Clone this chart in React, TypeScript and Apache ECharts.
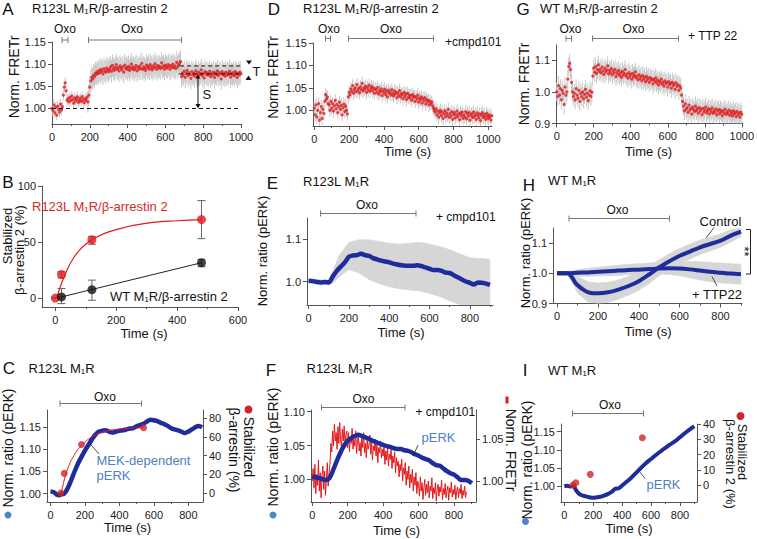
import React, { useEffect, useRef } from 'react';
import * as echarts from 'echarts';

const FONT = '"Liberation Sans", Arial, Helvetica, sans-serif';
const RED = '#e2191b';
const DOT_RED = '#d0262b';
const BLUE_LINE = '#1f2c9c';
const BLUE_TEXT = '#4f80c6';
const BLUE_DOT = '#4a86c8';
const GRAY_BAND = '#d6d6d6';
const GRAY_ERR = '#c8c8c8';
const AXIS = '#555';
const TICKTXT = '#222';

// ---------- Panel A : R123L M1R/β-arrestin 2 (sampled every 5 s) ----------
const A_T0 = 0;
const A_STEP = 5;
const A_VALUES = [
  1.000, 0.995, 1.008, 0.990, 1.003, 0.985, 1.005, 0.998, 0.992, 1.010, 0.997, 1.004,
  1.030, 1.048, 1.058, 1.040, 1.018,
  1.022, 1.015, 1.025, 1.018, 1.028, 1.020, 1.012, 1.024, 1.017, 1.021, 1.026, 1.014, 1.019, 1.023, 1.016, 1.027, 1.020, 1.013, 1.022, 1.018, 1.025, 1.015,
  1.030, 1.048, 1.062, 1.070, 1.066, 1.075, 1.072, 1.080, 1.077, 1.083, 1.079, 1.086, 1.081, 1.088, 1.084, 1.078, 1.090, 1.085, 1.082, 1.091, 1.087, 1.083,
  1.089, 1.094, 1.084, 1.097, 1.090, 1.086, 1.093, 1.099, 1.088, 1.092,
  1.085, 1.096, 1.091, 1.087, 1.094, 1.082, 1.098, 1.090, 1.093, 1.088,
  1.095, 1.086, 1.092, 1.100, 1.089, 1.094, 1.087, 1.091, 1.097, 1.085,
  1.093, 1.089, 1.096, 1.090, 1.102, 1.088, 1.094, 1.091, 1.086, 1.098,
  1.092, 1.095, 1.089, 1.099, 1.093, 1.087, 1.096, 1.091, 1.101, 1.094,
  1.088, 1.097, 1.092, 1.095, 1.090, 1.103, 1.093, 1.096, 1.089, 1.098,
  1.094, 1.091, 1.099, 1.095, 1.088, 1.097, 1.093, 1.100, 1.092, 1.096,
  1.090, 1.104, 1.094, 1.098, 1.101, 1.106,
  1.072, 1.080, 1.075, 1.084, 1.070, 1.079, 1.086, 1.074, 1.081, 1.077,
  1.068, 1.083, 1.076, 1.080, 1.073, 1.085, 1.078, 1.071, 1.082, 1.076,
  1.079, 1.087, 1.074, 1.080, 1.069, 1.083, 1.077, 1.081, 1.075, 1.078,
  1.084, 1.072, 1.079, 1.076, 1.082, 1.070, 1.080, 1.077, 1.085, 1.074,
  1.081, 1.078, 1.067, 1.083, 1.076, 1.079, 1.073, 1.082, 1.075, 1.080,
  1.077, 1.084, 1.071, 1.079, 1.076, 1.081, 1.074, 1.083, 1.078, 1.070,
  1.080, 1.076, 1.082, 1.078,
];
const A_ERR = [[0, 0.012], [190, 0.025]];
const A_BASELINE = [[0, 1.0], [1000, 1.0]];
const A_T_UPPER = [[678, 1.096], [1000, 1.096]];
const A_T_LOWER = [[672, 1.078], [1000, 1.078]];

// ---------- Panel D : + cmpd101 ----------
const D_T0 = 0;
const D_STEP = 5;
const D_VALUES = [
  1.005, 0.990, 1.012, 0.985, 1.000, 1.015, 0.978, 0.995, 1.008, 0.982, 1.002, 0.993,
  1.020, 1.035, 1.025, 1.030, 1.015,
  1.012, 1.000, 1.020, 1.005, 1.015, 0.998, 1.010, 1.022, 1.003, 1.013, 0.995, 1.008, 1.018, 1.002, 1.011, 0.990, 1.006, 1.014, 0.997, 1.009, 1.000, 0.992,
  1.030, 1.040, 1.035, 1.048, 1.042, 1.055, 1.038, 1.046, 1.050, 1.041, 1.057, 1.044, 1.049, 1.039, 1.052, 1.046,
  1.060, 1.043, 1.050, 1.047, 1.054, 1.040, 1.051, 1.045, 1.056, 1.042, 1.049, 1.053, 1.044, 1.050, 1.038, 1.048,
  1.046, 1.040, 1.051, 1.036, 1.044, 1.041, 1.048, 1.033, 1.043, 1.039,
  1.047, 1.035, 1.042, 1.030, 1.045, 1.038, 1.041, 1.034, 1.046, 1.037,
  1.032, 1.043, 1.036, 1.040, 1.028, 1.039, 1.033, 1.044, 1.030, 1.037,
  1.035, 1.026, 1.040, 1.031, 1.036, 1.024, 1.038, 1.029, 1.034, 1.027,
  1.033, 1.022, 1.035, 1.028, 1.031, 1.020, 1.030, 1.025, 1.034, 1.018,
  1.027, 1.023, 1.030, 1.016, 1.026, 1.021, 1.028, 1.014, 1.024, 1.019,
  1.022, 1.012, 1.020, 1.015, 1.018, 1.010,
  1.005, 1.000, 0.996, 1.003, 0.990, 0.998, 0.985, 0.994, 1.000, 0.988,
  0.996, 0.982, 0.992, 0.999, 0.986, 0.994, 0.989, 1.002, 0.984, 0.993,
  0.987, 0.997, 0.980, 0.991, 0.995, 0.983, 0.990, 0.998, 0.986, 0.992,
  0.979, 0.994, 0.988, 0.996, 0.982, 0.990, 0.985, 0.997, 0.981, 0.993,
  0.987, 0.995, 0.978, 0.989, 0.992, 0.984, 0.996, 0.986, 0.990, 0.980,
  0.994, 0.988, 0.983, 0.992, 0.977, 0.989, 0.995, 0.984, 0.991, 0.986,
  0.980, 0.993, 0.987, 0.982, 0.990, 0.985, 0.978, 0.988,
];
const D_ERR = [[0, 0.015]];

// ---------- Panel G : WT M1R/β-arrestin 2 + TTP 22 ----------
const G_T0 = 0;
const G_STEP = 5;
const G_VALUES = [
  1.000, 0.985, 1.020, 0.990, 1.010, 0.975, 1.005, 0.995, 0.960, 1.015, 0.990, 1.000,
  1.040, 1.080, 1.090, 1.070, 1.030,
  1.000, 0.985, 0.995, 0.975, 1.010, 0.990, 0.980, 1.005, 0.970, 0.995, 0.985, 1.000, 0.978, 0.992, 1.008, 0.983, 0.996, 0.972, 0.990, 1.003, 0.986, 0.998,
  1.050, 1.075, 1.062, 1.080, 1.058, 1.070, 1.085, 1.065, 1.072, 1.060,
  1.078, 1.066, 1.055, 1.074, 1.063, 1.069, 1.082, 1.057, 1.068, 1.061,
  1.073, 1.054, 1.066, 1.059, 1.071, 1.048, 1.063, 1.056, 1.068, 1.052,
  1.060, 1.046, 1.065, 1.053, 1.058, 1.070, 1.050, 1.056, 1.043, 1.061,
  1.049, 1.055, 1.040, 1.058, 1.047, 1.052, 1.063, 1.044, 1.050, 1.038,
  1.054, 1.042, 1.048, 1.035, 1.051, 1.040, 1.046, 1.032, 1.049, 1.038,
  1.043, 1.030, 1.045, 1.036, 1.041, 1.025, 1.039, 1.033, 1.044, 1.028,
  1.036, 1.022, 1.034, 1.030, 1.040, 1.024, 1.031, 1.018, 1.035, 1.026,
  1.029, 1.015, 1.032, 1.023, 1.027, 1.012, 1.030, 1.020, 1.025, 1.008,
  1.028, 1.017, 1.022, 1.005, 1.019, 1.012, 0.990, 0.970,
  0.955, 0.940, 0.962, 0.945, 0.950, 0.935, 0.958, 0.942, 0.948, 0.930,
  0.952, 0.944, 0.938, 0.955, 0.941, 0.947, 0.933, 0.950, 0.939, 0.945,
  0.928, 0.948, 0.936, 0.943, 0.952, 0.934, 0.940, 0.946, 0.930, 0.944,
  0.937, 0.949, 0.932, 0.941, 0.935, 0.946, 0.927, 0.939, 0.944, 0.931,
  0.942, 0.936, 0.925, 0.940, 0.933, 0.945, 0.929, 0.937, 0.931, 0.942,
  0.926, 0.938, 0.933, 0.924, 0.940, 0.930, 0.935, 0.922, 0.938, 0.928,
  0.933, 0.920, 0.936, 0.929,
];
const G_ERR = [[0, 0.03]];

// ---------- Panel B : stabilized β-arrestin 2 ----------
const B_RED_T = [0, 20, 120, 480];
const B_RED_V = [0, 21, 52, 70];
const B_RED_LO = [0, 18, 48, 53];
const B_RED_HI = [0, 23.5, 55, 87];
const B_RED_FIT = [[3, 0], [10, 5], [20, 13], [40, 26], [60, 36], [80, 43], [100, 48], [120, 52], [160, 57.5], [200, 61], [260, 65], [320, 67.5], [400, 69], [480, 70]];
const B_WT_T = [20, 120, 480];
const B_WT_V = [1, 7.5, 31.5];
const B_WT_LO = [-5, -2, 28];
const B_WT_HI = [8.5, 16, 34.5];
const B_WT_FIT = [[20, 1], [480, 31.5]];

// ---------- Panel E : R123L M1R pERK + cmpd101 ----------
const E_T = [0, 20, 40, 60, 80, 100, 120, 140, 160, 180, 200, 220, 240, 260, 280, 300, 320, 340, 360, 380, 400, 420, 440, 460, 480, 500, 520, 540, 560, 580, 600, 620, 640, 660, 680, 700, 720, 740, 760, 780, 800, 820, 840, 860, 880, 900];
const E_V = [1.002, 1.001, 0.999, 0.998, 0.999, 0.998, 1.012, 1.025, 1.035, 1.045, 1.058, 1.061, 1.062, 1.065, 1.062, 1.06, 1.055, 1.052, 1.049, 1.047, 1.045, 1.042, 1.04, 1.038, 1.037, 1.037, 1.037, 1.038, 1.036, 1.033, 1.03, 1.027, 1.027, 1.025, 1.021, 1.02, 1.015, 1.01, 1.005, 1.0, 0.997, 0.993, 0.998, 0.997, 0.995, 0.992];
const E_BAND_T = [0, 50, 100, 125, 150, 200, 250, 300, 350, 400, 450, 500, 550, 600, 650, 700, 750, 800, 850, 900];
const E_BAND_HI = [1.006, 1.004, 1.003, 1.03, 1.06, 1.092, 1.098, 1.098, 1.094, 1.09, 1.088, 1.09, 1.092, 1.088, 1.082, 1.075, 1.065, 1.056, 1.054, 1.052];
const E_BAND_LO = [0.998, 0.994, 0.993, 0.998, 1.01, 1.028, 1.02, 1.005, 0.995, 0.988, 0.983, 0.98, 0.978, 0.972, 0.965, 0.955, 0.946, 0.945, 0.945, 0.945];

// ---------- Panel H : WT M1R pERK, Control vs + TTP22 ----------
const H_CTRL_T = [0, 25, 50, 60, 75, 90, 110, 130, 150, 175, 200, 250, 300, 350, 400, 450, 500, 550, 600, 650, 700, 750, 800, 850, 900];
const H_CTRL_V = [1.0, 1.0, 1.0, 0.998, 0.985, 0.968, 0.955, 0.945, 0.938, 0.934, 0.934, 0.937, 0.946, 0.958, 0.974, 0.996, 1.02, 1.04, 1.058, 1.072, 1.086, 1.097, 1.108, 1.125, 1.138];
const H_CTRL_BAND_T = [0, 50, 75, 100, 150, 200, 250, 300, 350, 400, 450, 500, 550, 600, 650, 700, 750, 800, 850, 900];
const H_CTRL_HI = [1.005, 1.005, 0.998, 0.99, 0.972, 0.968, 0.97, 0.978, 0.99, 1.005, 1.025, 1.045, 1.065, 1.082, 1.097, 1.11, 1.12, 1.13, 1.145, 1.15];
const H_CTRL_LO = [0.995, 0.995, 0.97, 0.935, 0.905, 0.9, 0.904, 0.914, 0.928, 0.944, 0.966, 0.992, 1.015, 1.034, 1.047, 1.062, 1.074, 1.086, 1.103, 1.122];
const H_TTP_T = [0, 50, 100, 150, 200, 250, 300, 350, 400, 450, 500, 550, 600, 650, 700, 750, 800, 850, 900];
const H_TTP_V = [1.0, 1.0, 1.002, 1.003, 1.005, 1.007, 1.009, 1.011, 1.012, 1.014, 1.016, 1.017, 1.016, 1.013, 1.009, 1.005, 1.002, 0.999, 0.997];
const H_TTP_HI = [1.004, 1.005, 1.012, 1.017, 1.02, 1.024, 1.027, 1.03, 1.032, 1.034, 1.036, 1.038, 1.04, 1.04, 1.038, 1.036, 1.034, 1.032, 1.03];
const H_TTP_LO = [0.996, 0.995, 0.99, 0.99, 0.991, 0.992, 0.993, 0.995, 0.996, 0.998, 0.998, 0.996, 0.992, 0.985, 0.978, 0.972, 0.968, 0.966, 0.964];

// ---------- Panel C : R123L M1R pERK vs stabilized β-arrestin ----------
const C_PERK_T = [0, 20, 40, 50, 60, 80, 100, 120, 140, 160, 180, 200, 220, 240, 260, 280, 300, 320, 340, 360, 380, 400, 420, 440, 460, 480, 500, 520, 540, 560, 580, 600, 620, 640, 660, 680, 700, 720, 740, 760, 780, 800, 820, 840, 860, 880];
const C_PERK_V = [1.005, 1.003, 0.997, 0.996, 0.998, 1.0, 1.012, 1.03, 1.05, 1.068, 1.083, 1.097, 1.11, 1.122, 1.133, 1.14, 1.142, 1.143, 1.14, 1.138, 1.14, 1.142, 1.143, 1.145, 1.147, 1.148, 1.152, 1.155, 1.158, 1.163, 1.167, 1.166, 1.164, 1.16, 1.157, 1.153, 1.148, 1.145, 1.143, 1.14, 1.137, 1.14, 1.145, 1.15, 1.153, 1.15];
const C_ARR_T = [60, 80, 180, 540];
const C_ARR_V = [0, 21, 52, 70];
const C_ARR_FIT = [[60, 0], [70, 6], [80, 14], [100, 26], [130, 38], [180, 51], [240, 60], [300, 65], [400, 68.5], [540, 70]];

// ---------- Panel F : R123L M1R pERK vs FRETr + cmpd101 ----------
const F_PERK_T = E_T;
const F_PERK_V = [1.004, 1.003, 1.002, 1.0, 0.999, 1.003, 1.015, 1.028, 1.04, 1.05, 1.057, 1.061, 1.064, 1.066, 1.064, 1.062, 1.06, 1.057, 1.055, 1.053, 1.051, 1.049, 1.048, 1.046, 1.045, 1.045, 1.043, 1.042, 1.04, 1.037, 1.035, 1.032, 1.03, 1.028, 1.024, 1.021, 1.02, 1.016, 1.012, 1.009, 1.007, 1.003, 0.999, 0.999, 0.998, 0.994];
const F_FRET_T0 = 0;
const F_FRET_STEP = 5;
const F_FRET_V = [
  1.000, 1.015, 0.992, 1.020, 0.985, 1.008, 0.995, 1.025, 0.988, 1.010, 0.980, 1.005, 1.018, 0.990, 1.012, 0.983, 1.002, 1.022, 0.994, 1.010,
  1.020, 1.045, 1.035, 1.060, 1.042, 1.068, 1.048, 1.058, 1.038, 1.065, 1.045, 1.070, 1.050, 1.040, 1.062, 1.048, 1.066, 1.044, 1.055, 1.060,
  1.040, 1.058, 1.035, 1.052, 1.045, 1.063, 1.038, 1.050, 1.042, 1.060,
  1.033, 1.048, 1.055, 1.036, 1.046, 1.030, 1.052, 1.040, 1.058, 1.034,
  1.045, 1.028, 1.050, 1.038, 1.043, 1.055, 1.032, 1.046, 1.025, 1.042,
  1.036, 1.050, 1.030, 1.044, 1.022, 1.040, 1.034, 1.048, 1.028, 1.038,
  1.030, 1.042, 1.020, 1.036, 1.025, 1.040, 1.018, 1.032, 1.026, 1.038,
  1.015, 1.030, 1.022, 1.035, 1.010, 1.028, 1.018, 1.024, 1.005, 1.020,
  1.012, 1.026, 1.000, 1.016, 1.008, 1.022, 0.995, 1.012, 1.002, 1.018,
  0.992, 1.008, 0.998, 1.014, 0.988, 1.005, 0.995, 1.010, 0.985, 1.000,
  0.995, 0.982, 1.005, 0.988, 0.998, 0.978, 0.992, 1.002, 0.983, 0.996,
  0.986, 1.000, 0.980, 0.994, 0.988, 1.004, 0.979, 0.992, 0.985, 0.998,
  0.976, 0.990, 0.996, 0.982, 0.993, 0.987, 1.001, 0.978, 0.991, 0.984,
  0.997, 0.980, 0.989, 0.994, 0.977, 0.992, 0.986, 0.999, 0.981, 0.990,
  0.984, 0.995, 0.978, 0.988, 0.993, 0.980, 0.991, 0.985, 0.996, 0.979,
  0.989, 0.983, 0.994, 0.980, 0.987,
];

// ---------- Panel I : WT M1R pERK vs stabilized β-arrestin 2 ----------
const I_PERK_T = [0, 20, 40, 60, 70, 80, 100, 120, 150, 180, 200, 220, 250, 280, 300, 330, 350, 380, 400, 430, 460, 500, 530, 560, 600, 640, 680, 720, 760, 800, 840, 880, 900];
const I_PERK_V = [1.0, 1.001, 0.999, 1.0, 0.998, 0.99, 0.98, 0.975, 0.972, 0.969, 0.968, 0.969, 0.971, 0.975, 0.978, 0.985, 0.992, 0.995, 1.002, 1.012, 1.022, 1.038, 1.05, 1.062, 1.075, 1.088, 1.1, 1.112, 1.122, 1.135, 1.148, 1.16, 1.165];
const I_ARR_T = [60, 80, 180, 540];
const I_ARR_V = [0, 1.5, 7, 31];

// ---------- tick labels ----------
const X_TICKS_1000 = [0, 200, 400, 600, 800, 1000];
const X_MINOR_1000 = [100, 300, 500, 700, 900];
const X_TICKS_800 = [0, 200, 400, 600, 800];
const X_MINOR_800 = [100, 300, 500, 700, 900];
const X_TICKS_B = [0, 200, 400, 600];
const X_MINOR_B = [100, 300, 500];
const Y_TICKS_FRET = [1.0, 1.05, 1.1, 1.15];
const Y_TICKS_G = [0.9, 1.0, 1.1];
const Y_TICKS_B = [0, 50, 100];
const Y_TICKS_E = [1.0, 1.1];
const Y_TICKS_H = [0.9, 1.0, 1.1];
const Y_TICKS_C = [1.0, 1.05, 1.1, 1.15];
const Y_TICKS_C_R = [0, 20, 40, 60, 80];
const Y_TICKS_F = [1.0, 1.05, 1.1];
const Y_TICKS_F_R = [1.0, 1.05];
const Y_TICKS_I = [1.0, 1.05, 1.1, 1.15];
const Y_TICKS_I_R = [0, 10, 20, 30, 40];

function stepTimes(t0: number, step: number, n: number) {
  return Array.from({ length: n }, (_, i) => t0 + i * step);
}
function errAt(segs: number[][], t: number) {
  let e = segs[0][1];
  for (const s of segs) if (t >= s[0]) e = s[1];
  return e;
}
function pairs(ts: number[], vs: number[]) {
  return ts.map((t, i) => [t, vs[i]]);
}

function buildOption() {
  const grid: any[] = [];
  const xAxis: any[] = [];
  const yAxis: any[] = [];
  const series: any[] = [];
  const graphic: any[] = [];

  const addX = (gi: number, min: number, max: number, ticks: number[], minor: number[]) => {
    const base = { type: 'value', gridIndex: gi, min, max, position: 'bottom', splitLine: { show: false } };
    xAxis.push({
      ...base,
      axisLine: { show: true, onZero: false, lineStyle: { color: AXIS, width: 1 } },
      axisTick: { show: true, length: 4, customValues: ticks, lineStyle: { color: AXIS } },
      axisLabel: { show: true, customValues: ticks, margin: 7, fontSize: 11, color: TICKTXT, fontFamily: FONT, formatter: (v: number) => String(Math.round(v)) },
    });
    const idx = xAxis.length - 1;
    xAxis.push({
      ...base,
      axisLine: { show: false, onZero: false },
      axisTick: { show: true, length: 2, customValues: minor.filter((m) => m <= max), lineStyle: { color: AXIS } },
      axisLabel: { show: false },
    });
    return idx;
  };
  const addY = (gi: number, min: number, max: number, ticks: number[], digits: number, position = 'left') => {
    yAxis.push({
      type: 'value', gridIndex: gi, min, max, position, splitLine: { show: false },
      axisLine: { show: true, onZero: false, lineStyle: { color: AXIS } },
      axisTick: { show: true, length: 4, customValues: ticks, lineStyle: { color: AXIS } },
      axisLabel: { customValues: ticks, margin: 6, fontSize: 11, color: TICKTXT, fontFamily: FONT, formatter: (v: number) => v.toFixed(digits) },
    });
    return yAxis.length - 1;
  };

  const errRender = (color: string, cap: number) => (params: any, api: any) => {
    const x = api.value(0);
    const p1 = api.coord([x, api.value(1)]);
    const p2 = api.coord([x, api.value(2)]);
    const st = { stroke: color, lineWidth: 1 };
    const children: any[] = [{ type: 'line', shape: { x1: p1[0], y1: p1[1], x2: p2[0], y2: p2[1] }, style: st }];
    if (cap > 0) {
      children.push({ type: 'line', shape: { x1: p1[0] - cap, y1: p1[1], x2: p1[0] + cap, y2: p1[1] }, style: st });
      children.push({ type: 'line', shape: { x1: p2[0] - cap, y1: p2[1], x2: p2[0] + cap, y2: p2[1] }, style: st });
    }
    return { type: 'group', children };
  };

  const scatterPanel = (xi: number, yi: number, t0: number, step: number, vals: number[], errSegs: number[][]) => {
    const ts = stepTimes(t0, step, vals.length);
    series.push({
      type: 'custom', xAxisIndex: xi, yAxisIndex: yi, silent: true, z: 1, clip: true,
      encode: { x: 0, y: [1, 2] },
      data: ts.map((t, i) => { const e = errAt(errSegs, t); return [t, vals[i] - e, vals[i] + e]; }),
      renderItem: errRender(GRAY_ERR, 0),
    });
    series.push({
      type: 'scatter', xAxisIndex: xi, yAxisIndex: yi, symbolSize: 3.2, z: 2, silent: true,
      itemStyle: { color: RED }, data: pairs(ts, vals),
    });
  };
  const lineS = (xi: number, yi: number, data: number[][], color: string, width: number, opts: any = {}) => {
    series.push({
      type: 'line', xAxisIndex: xi, yAxisIndex: yi, data, symbol: 'none', silent: true,
      smooth: opts.smooth ?? false, z: opts.z ?? 3,
      lineStyle: { color, width, type: opts.dash ? [4, 3] : 'solid' }, itemStyle: { color },
    });
  };
  const band = (xi: number, yi: number, ts: number[], lo: number[], hi: number[]) => {
    const data: number[][] = [];
    for (let i = 0; i < ts.length - 1; i++) data.push([ts[i], lo[i], hi[i], ts[i + 1], lo[i + 1], hi[i + 1]]);
    series.push({
      type: 'custom', xAxisIndex: xi, yAxisIndex: yi, silent: true, z: 1, clip: true,
      encode: { x: [0, 3], y: [1, 2, 4, 5] },
      data,
      renderItem: (params: any, api: any) => {
        const a = api.coord([api.value(0), api.value(1)]);
        const b = api.coord([api.value(0), api.value(2)]);
        const c = api.coord([api.value(3), api.value(5)]);
        const d = api.coord([api.value(3), api.value(4)]);
        return { type: 'polygon', shape: { points: [a, b, c, d] }, style: { fill: GRAY_BAND, stroke: GRAY_BAND, lineWidth: 0.6 } };
      },
    });
  };
  const dots = (xi: number, yi: number, ts: number[], vs: number[], color: string, size: number) => {
    series.push({ type: 'scatter', xAxisIndex: xi, yAxisIndex: yi, symbolSize: size, z: 5, silent: true, itemStyle: { color }, data: pairs(ts, vs) });
  };

  // ----- A -----
  grid.push({ left: 52, top: 42, width: 189, height: 82 });
  let xi = addX(0, 0, 1000, X_TICKS_1000, X_MINOR_1000);
  let yi = addY(0, 0.965, 1.15, Y_TICKS_FRET, 2);
  scatterPanel(xi, yi, A_T0, A_STEP, A_VALUES, A_ERR);
  lineS(xi, yi, A_BASELINE, '#111', 1, { dash: true, z: 6 });
  lineS(xi, yi, A_T_UPPER, '#111', 1, { dash: true, z: 6 });
  lineS(xi, yi, A_T_LOWER, '#111', 1, { dash: true, z: 6 });

  // ----- D -----
  grid.push({ left: 313, top: 43, width: 179, height: 83 });
  xi = addX(1, -7.5, 1021, X_TICKS_1000, X_MINOR_1000);
  yi = addY(1, 0.965, 1.15, Y_TICKS_FRET, 2);
  scatterPanel(xi, yi, D_T0, D_STEP, D_VALUES, D_ERR);

  // ----- G -----
  grid.push({ left: 556, top: 45, width: 188, height: 78.5 });
  xi = addX(2, -4, 1005, X_TICKS_1000, X_MINOR_1000);
  yi = addY(2, 0.9, 1.148, Y_TICKS_G, 1);
  scatterPanel(xi, yi, G_T0, G_STEP, G_VALUES, G_ERR);

  // ----- B -----
  grid.push({ left: 42, top: 186, width: 196, height: 121 });
  xi = addX(3, -44, 600, X_TICKS_B, X_MINOR_B);
  yi = addY(3, -8, 100, Y_TICKS_B, 0);
  lineS(xi, yi, B_RED_FIT, RED, 1.2, { smooth: true, z: 2 });
  lineS(xi, yi, B_WT_FIT, '#222', 1, { z: 2 });
  series.push({
    type: 'custom', xAxisIndex: xi, yAxisIndex: yi, silent: true, z: 3, encode: { x: 0, y: [1, 2] },
    data: B_RED_T.map((t, i) => [t, B_RED_LO[i], B_RED_HI[i]]).concat(B_WT_T.map((t, i) => [t, B_WT_LO[i], B_WT_HI[i]])),
    renderItem: errRender('#666', 4),
  });
  dots(xi, yi, B_RED_T, B_RED_V, RED, 9);
  dots(xi, yi, B_WT_T, B_WT_V, '#111', 9);

  // ----- E -----
  grid.push({ left: 307, top: 218, width: 186, height: 87 });
  xi = addX(4, -8, 915, X_TICKS_800, X_MINOR_800);
  yi = addY(4, 0.945, 1.149, Y_TICKS_E, 1);
  band(xi, yi, E_BAND_T, E_BAND_LO, E_BAND_HI);
  lineS(xi, yi, pairs(E_T, E_V), BLUE_LINE, 4.5, { smooth: 0.3, z: 4 });

  // ----- H -----
  grid.push({ left: 553, top: 228, width: 189, height: 75.5 });
  xi = addX(5, -20, 905, X_TICKS_800, X_MINOR_800);
  yi = addY(5, 0.9, 1.15, Y_TICKS_H, 1);
  band(xi, yi, H_CTRL_BAND_T, H_CTRL_LO, H_CTRL_HI);
  band(xi, yi, H_TTP_T, H_TTP_LO, H_TTP_HI);
  lineS(xi, yi, pairs(H_TTP_T, H_TTP_V), BLUE_LINE, 4, { smooth: 0.3, z: 4 });
  lineS(xi, yi, pairs(H_CTRL_T, H_CTRL_V), BLUE_LINE, 4, { smooth: 0.3, z: 4 });

  // ----- C -----
  grid.push({ left: 47, top: 410, width: 156, height: 92 });
  xi = addX(6, -20, 885, X_TICKS_800, X_MINOR_800);
  yi = addY(6, 0.981, 1.189, Y_TICKS_C, 2);
  let yr = addY(6, -9.7, 89, Y_TICKS_C_R, 0, 'right');
  lineS(xi, yi, pairs(C_PERK_T, C_PERK_V), BLUE_LINE, 4.5, { smooth: 0.3, z: 3 });
  lineS(xi, yr, C_ARR_FIT, RED, 1, { smooth: true, z: 4 });
  dots(xi, yr, C_ARR_T, C_ARR_V, DOT_RED, 7);

  // ----- F -----
  grid.push({ left: 311, top: 410, width: 165, height: 92 });
  xi = addX(7, -7, 924, X_TICKS_800, X_MINOR_800);
  yi = addY(7, 0.9665, 1.1025, Y_TICKS_F, 2);
  yr = addY(7, 0.975, 1.085, Y_TICKS_F_R, 2, 'right');
  lineS(xi, yr, pairs(stepTimes(F_FRET_T0, F_FRET_STEP, F_FRET_V.length), F_FRET_V), RED, 1, { z: 2 });
  lineS(xi, yi, pairs(F_PERK_T, F_PERK_V), BLUE_LINE, 4.5, { smooth: 0.3, z: 3 });

  // ----- I -----
  grid.push({ left: 561, top: 424, width: 136, height: 78 });
  xi = addX(8, -23, 918, X_TICKS_800, X_MINOR_800);
  yi = addY(8, 0.9564, 1.1713, Y_TICKS_I, 2);
  yr = addY(8, -11.1, 40, Y_TICKS_I_R, 0, 'right');
  lineS(xi, yi, pairs(I_PERK_T, I_PERK_V), BLUE_LINE, 4, { smooth: 0.3, z: 3 });
  dots(xi, yr, I_ARR_T, I_ARR_V, DOT_RED, 7);

  // ----- graphics -----
  const T = (text: string, x: number, y: number, o: any = {}) =>
    graphic.push({
      type: 'text', x, y, rotation: o.rot || 0, z: 50, silent: true,
      style: { text, fill: o.color || '#111', fontSize: o.size || 13, fontFamily: FONT, align: o.align || 'left', verticalAlign: 'middle', fontWeight: o.weight || 'normal' },
    });
  const L = (x1: number, y1: number, x2: number, y2: number, color = '#777', w = 1) =>
    graphic.push({ type: 'line', z: 50, silent: true, shape: { x1, y1, x2, y2 }, style: { stroke: color, lineWidth: w } });
  const BR = (x1: number, x2: number, y: number) => { L(x1, y, x2, y); L(x1, y - 3, x1, y + 3); L(x2, y - 3, x2, y + 3); };
  const POLY = (pts: number[][], fill = '#111') => graphic.push({ type: 'polygon', z: 50, silent: true, shape: { points: pts }, style: { fill } });
  const DOT = (cx: number, cy: number, r: number, fill: string) => graphic.push({ type: 'circle', z: 50, silent: true, shape: { cx, cy, r }, style: { fill } });
  const UP = Math.PI / 2;
  const DOWN = -Math.PI / 2;

  // panel letters
  T('A', 8, 9, { size: 17, align: 'center' });
  T('D', 274, 9, { size: 17, align: 'center' });
  T('G', 523, 9.5, { size: 17, align: 'center' });
  T('B', 8, 182.5, { size: 17, align: 'center' });
  T('E', 272.5, 183, { size: 17, align: 'center' });
  T('H', 529, 185.5, { size: 17, align: 'center' });
  T('C', 9, 368, { size: 17, align: 'center' });
  T('F', 271, 370, { size: 17, align: 'center' });
  T('I', 525, 370, { size: 17, align: 'center' });

  // titles
  T('R123L M₁R/β-arrestin 2', 32, 8);
  T('R123L M₁R/β-arrestin 2', 303, 8);
  T('WT M₁R/β-arrestin 2', 540, 8.5);
  T('R123L M₁R', 303, 181.5);
  T('WT M₁R', 548, 180.5);
  T('R123L M₁R', 28.5, 368.5);
  T('R123L M₁R', 306.5, 368.5);
  T('WT M₁R', 548, 370);

  // Oxo brackets
  BR(62, 68, 40); T('Oxo', 65, 28.5, { size: 12, align: 'center' });
  BR(88.5, 181.5, 40); T('Oxo', 132, 28.5, { size: 12, align: 'center' });
  BR(325.5, 330.5, 38.5); T('Oxo', 329, 28.5, { size: 12, align: 'center' });
  BR(348.5, 433.5, 38.5); T('Oxo', 391, 28.5, { size: 12, align: 'center' });
  BR(566, 571.5, 38.5); T('Oxo', 570.5, 29, { size: 12, align: 'center' });
  BR(592.5, 678.5, 38.5); T('Oxo', 633.5, 29, { size: 12, align: 'center' });
  BR(320.5, 416, 213.5); T('Oxo', 367, 204.5, { size: 12, align: 'center' });
  BR(569, 669.5, 218.5); T('Oxo', 617.5, 209.5, { size: 12, align: 'center' });
  BR(60, 141.5, 403.5); T('Oxo', 105, 396.5, { size: 12, align: 'center' });
  BR(321.5, 405, 407.5); T('Oxo', 363.5, 398.5, { size: 12, align: 'center' });
  BR(572.5, 643.5, 413.5); T('Oxo', 610, 405, { size: 12, align: 'center' });

  T('+cmpd101', 445, 41.5, { size: 12 });
  T('+ TTP 22', 688, 35.5, { size: 12 });
  T('+ cmpd101', 436, 216.5, { size: 12 });
  T('+ cmpd101', 415.5, 411.5, { size: 12 });

  // axis titles
  T('Norm. FRETr', 13.5, 77, { rot: UP, size: 14, align: 'center' });
  T('Norm. FRETr', 273, 77.5, { rot: UP, size: 14, align: 'center' });
  T('Norm. FRETr', 524, 84, { rot: UP, size: 14, align: 'center' });
  T('Stabilized', 7.5, 236, { rot: UP, size: 13, align: 'center' });
  T('β-arrestin 2 (%)', 19.5, 250, { rot: UP, size: 13, align: 'center' });
  T('Norm. ratio (pERK)', 262, 251, { rot: UP, size: 13, align: 'center' });
  T('Norm. ratio (pERK)', 525, 253, { rot: UP, size: 13, align: 'center' });
  T('Norm. ratio (pERK)', 8, 448, { rot: UP, size: 14, align: 'center' });
  DOT(8, 515, 3.5, BLUE_DOT);
  T('Norm. ratio (pERK)', 273, 447, { rot: UP, size: 14, align: 'center' });
  DOT(273, 515, 3.5, BLUE_DOT);
  T('Norm. ratio (pERK)', 527, 460, { rot: UP, size: 14, align: 'center' });
  DOT(525.5, 521.5, 3.5, BLUE_DOT);
  // right-side titles
  DOT(248.5, 409.5, 4, DOT_RED);
  T('Stabilized', 248.5, 447, { rot: DOWN, size: 14, align: 'center' });
  T('β-arrestin (%)', 233.5, 450, { rot: DOWN, size: 14, align: 'center' });
  graphic.push({ type: 'rect', z: 50, silent: true, shape: { x: 505.5, y: 396.5, width: 3, height: 7 }, style: { fill: RED } });
  T('Norm. FRETr', 511, 450, { rot: DOWN, size: 14, align: 'center' });
  DOT(740.5, 416, 4, DOT_RED);
  T('Stabilized', 742, 452, { rot: DOWN, size: 13, align: 'center' });
  T('β-arrestin 2 (%)', 730, 464, { rot: DOWN, size: 13, align: 'center' });

  // Time (s)
  T('Time (s)', 407.5, 151.5, { align: 'center' });
  T('Time (s)', 648.5, 151.5, { align: 'center' });
  T('Time (s)', 144, 333, { align: 'center' });
  T('Time (s)', 401, 332.5, { align: 'center' });
  T('Time (s)', 648, 331.5, { align: 'center' });
  T('Time (s)', 127.5, 527.5, { align: 'center' });
  T('Time (s)', 396.5, 530, { align: 'center' });
  T('Time (s)', 629, 528.5, { align: 'center' });

  // A: S and T annotations
  L(198, 76.5, 198, 105, '#111', 1);
  POLY([[195.5, 104], [200.5, 104], [198, 108.5]]);
  POLY([[195.5, 78.5], [200.5, 78.5], [198, 74.5]]);
  T('S', 202.5, 94.5, { size: 13 });
  POLY([[246, 60.5], [252, 60.5], [249, 64.5]]);
  POLY([[245.5, 80], [251.5, 80], [248.5, 75.5]]);
  T('T', 252.5, 71.5, { size: 13 });

  // B legends
  T('R123L M₁R/β-arrestin 2', 32, 206.5, { color: '#d42a2a' });
  T('WT M₁R/β-arrestin 2', 110, 296, { color: '#111' });

  // H labels
  T('Control', 720.5, 221.5, { align: 'center' });
  L(714, 227.5, 706, 238, '#222', 0.8);
  T('+ TTP22', 717, 294, { align: 'center' });
  L(717, 286, 712, 276.5, '#222', 0.8);
  L(746, 229.5, 750.5, 229.5, '#222', 1);
  L(750.5, 229.5, 750.5, 274, '#222', 1);
  L(746, 274, 750.5, 274, '#222', 1);
  T('**', 744, 251.5, { rot: DOWN, size: 13, align: 'center' });

  // C labels
  T('MEK-dependent', 96.5, 460, { color: BLUE_TEXT, size: 13 });
  T('pERK', 96.5, 475, { color: BLUE_TEXT, size: 13 });
  L(88.5, 442, 99, 454, '#222', 0.8);

  // F labels
  T('pERK', 421.5, 437.5, { color: BLUE_TEXT, size: 13 });
  L(418, 445, 413, 456, '#222', 0.8);

  // I labels
  T('pERK', 646.5, 484, { color: BLUE_TEXT, size: 13 });
  L(645, 478.5, 639.5, 471.5, '#222', 0.8);

  return {
    animation: false,
    backgroundColor: '#ffffff',
    textStyle: { fontFamily: FONT },
    grid, xAxis, yAxis, series, graphic,
  };
}

export default function App() {
  const ref = useRef<HTMLDivElement>(null);
  useEffect(() => {
    const chart = echarts.init(ref.current as HTMLDivElement, null, { renderer: 'svg' });
    chart.setOption(buildOption() as any);
    return () => chart.dispose();
  }, []);
  return <div ref={ref} style={{ position: 'fixed', left: 0, top: 0, width: 757, height: 539, background: '#fff' }} />;
}
